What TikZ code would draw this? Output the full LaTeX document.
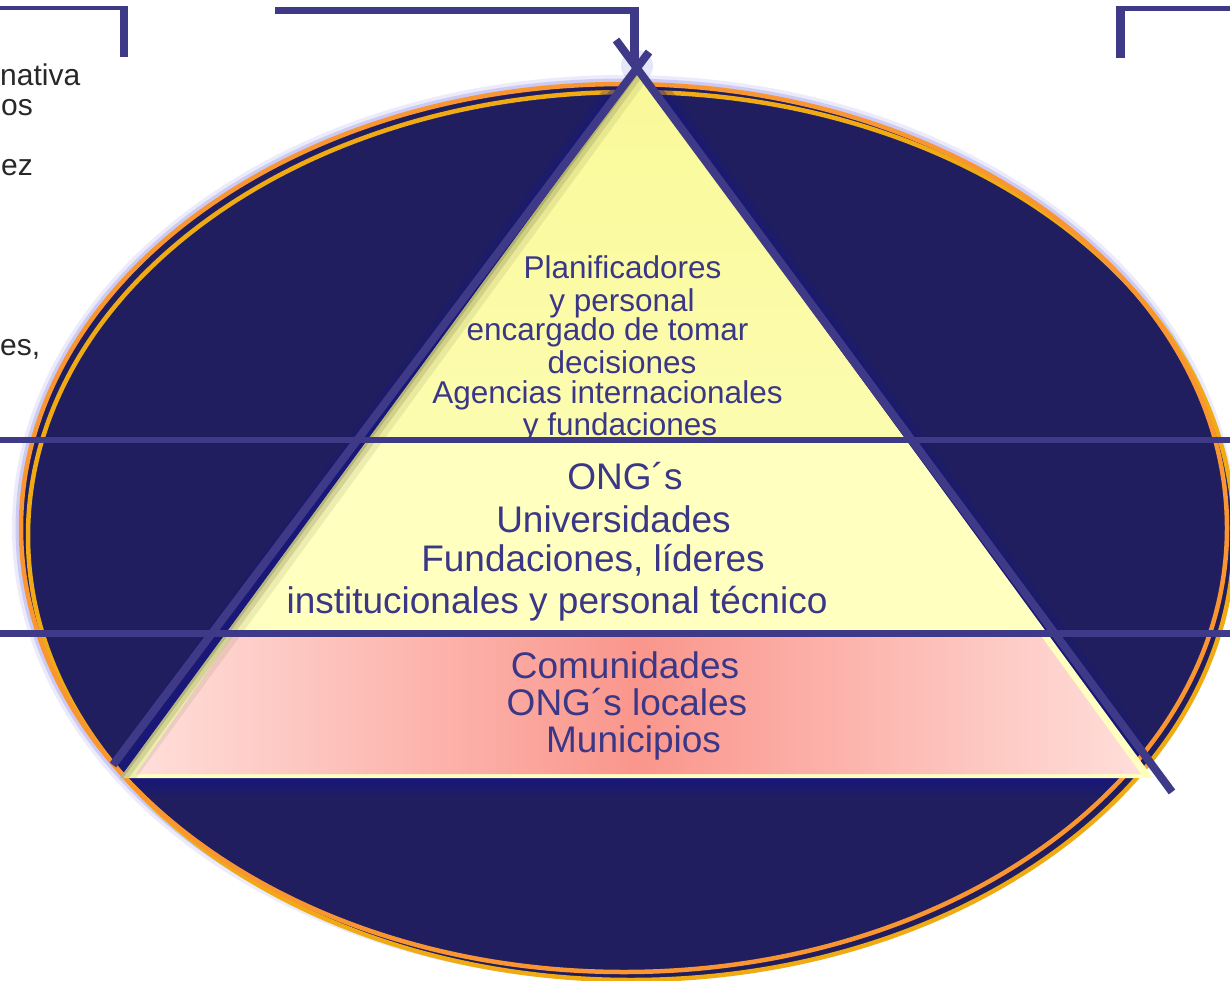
\documentclass[tikz,border=0pt]{standalone}
\usepackage{fontspec}
\setmainfont{Liberation Sans}
\definecolor{navyfill}{RGB}{32,30,94}
\definecolor{frameblue}{RGB}{63,58,135}
\definecolor{textblue}{RGB}{58,55,135}
\definecolor{ringorange}{RGB}{250,150,50}
\definecolor{ringgold}{RGB}{240,170,20}
\definecolor{glowblue}{RGB}{90,90,220}
\definecolor{edgeblue}{RGB}{24,24,130}
\definecolor{shadowolive}{RGB}{110,110,60}
\definecolor{topyellow}{RGB}{249,249,152}
\definecolor{lowyellow}{RGB}{252,252,176}
\definecolor{midyellow}{RGB}{255,255,192}
\definecolor{pinkedge}{RGB}{255,222,218}
\definecolor{pinkmid}{RGB}{250,150,140}
\definecolor{grayleft}{RGB}{40,40,40}
\tikzstyle{frame}=[draw=frameblue,line width=8pt]
\tikzstyle{divider}=[draw=frameblue,line width=6pt]
\tikzstyle{toptext}=[text=textblue,inner sep=0pt,anchor=base,font=\fontsize{31.5}{31}\selectfont]
\tikzstyle{bigtext}=[text=textblue,inner sep=0pt,anchor=base,font=\fontsize{37}{37}\selectfont]
\tikzstyle{cuttext}=[text=grayleft,inner sep=0pt,anchor=base west,font=\fontsize{30}{30}\selectfont]
\tikzset{oval/.style={x radius=603pt,y radius=444pt}}

\begin{document}
\begin{tikzpicture}[x=1pt,y=-1pt]
	\useasboundingbox (0,0) rectangle (1230,981);

	% Corners of the pyramid and ends of its two side lines
	\coordinate (apex) at (637,72);
	\coordinate (bl) at (120,778);
	\coordinate (br) at (1153,778);
	\coordinate (lfoot) at (113,765);
	\coordinate (ltip) at (649,52);
	\coordinate (rfoot) at (1172,792);
	\coordinate (rtip) at (616,40);

	% Draw the oval with its glow and its two rings
	\foreach \w/\o in {18pt/0.12, 11pt/0.22}
	\draw[glowblue,line width=\w,opacity=\o] (624,528) ellipse [oval];
	\fill[navyfill] (624,528) ellipse [oval];
	\fill[navyfill] (631,536) ellipse [oval];
	\draw[ringgold,line width=4.5pt] (631,536) ellipse [oval];
	\draw[ringorange,line width=4.5pt] (624,528) ellipse [oval];

	% Glow round the pyramid, kept inside the oval
	\begin{scope}
		\clip (624,528) ellipse [x radius=600pt,y radius=441pt];
		\foreach \w/\o in {34pt/0.25, 22pt/0.35, 12pt/0.5}
		\draw[edgeblue,line width=\w,opacity=\o,line join=round] (apex) -- (bl) -- (br) -- cycle;
	\end{scope}
	\fill[glowblue,opacity=0.15] (637,66) circle (16pt);

	% Fill the three tiers
	\begin{scope}
		\clip (apex) -- (bl) -- (br) -- cycle;
		\shade[top color=topyellow,bottom color=lowyellow] (0,60) rectangle (1230,440);
		\fill[midyellow] (0,440) rectangle (1230,781);
		\shade[left color=pinkedge,right color=pinkedge,middle color=pinkmid]
			(232,636) -- (1041,636) -- (1141,774) -- (136,774) -- cycle;
		\foreach \w/\o in {26pt/0.12, 14pt/0.2, 5pt/0.3}
		\draw[shadowolive,line width=\w,opacity=\o] (apex) -- (bl);
	\end{scope}

	% Write the names of each tier
	\foreach \pos/\txt [count=\i] in {{(622.5,279)/Planificadores}, {(622,311)/y personal},
							{(607.5,340)/encargado de tomar}, {(622,373)/decisiones},
							{(607.5,403)/Agencias internacionales}, {(620,435)/y fundaciones}}
	\node[toptext] (top\i) at \pos {\txt};

	\foreach \pos/\txt [count=\i] in {{(625,489)/ONG´s}, {(613.5,532)/Universidades},
							{(593,571)/{Fundaciones, líderes}}, {(557,613)/institucionales y personal técnico}}
	\node[bigtext] (mid\i) at \pos {\txt};

	\foreach \pos/\txt [count=\i] in {{(625,678)/Comunidades}, {(627,715)/ONG´s locales}, {(633.5,752)/Municipios}}
	\node[bigtext] (low\i) at \pos {\txt};

	% Text at the left border
	\foreach \pos/\txt [count=\i] in {{(0,86)/nativa}, {(1,116)/os}, {(1,176)/ez}, {(0,355)/es,}}
	\node[cuttext] (cut\i) at \pos {\txt};

	% Lines between the tiers and sides of the pyramid
	\draw[divider] (0,440) -- (1230,440);
	\draw[divider,line width=7pt] (0,633) -- (1230,633);
	\draw[frame] (lfoot) -- (ltip);
	\draw[frame] (rfoot) -- (rtip);

	% Brackets along the top
	\draw[frameblue,line width=4pt] (0,8.5) -- (128,8.5);
	\draw[frameblue,line width=8pt] (124,6.5) -- (124,57);
	\draw[frameblue,line width=7pt] (275,10.5) -- (638,10.5);
	\draw[frameblue,line width=9pt] (634,7) -- (634,66);
	\draw[frameblue,line width=5pt] (1116,8.5) -- (1230,8.5);
	\draw[frameblue,line width=9pt] (1120.5,6) -- (1120.5,58);
\end{tikzpicture}
\end{document}
